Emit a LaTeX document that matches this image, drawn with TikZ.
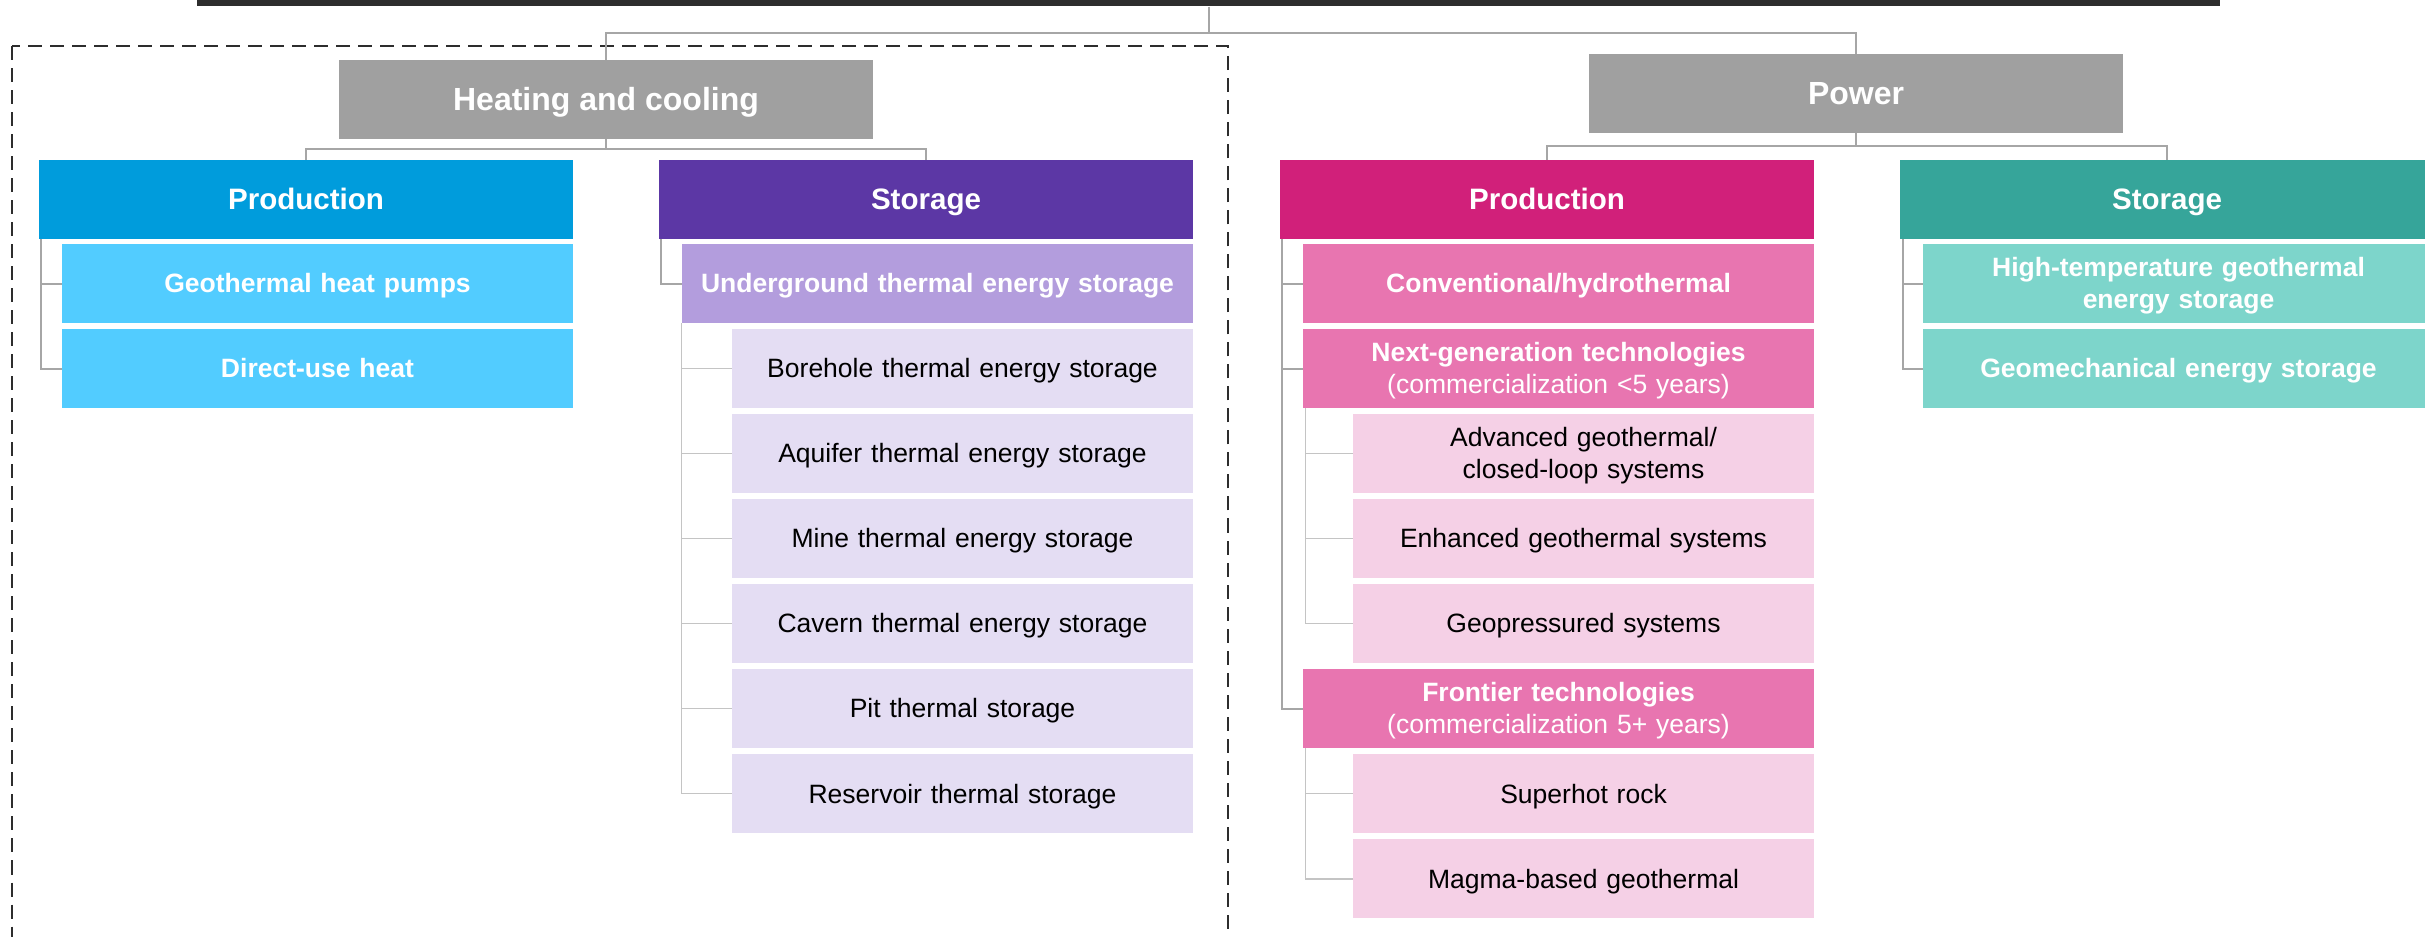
\documentclass[tikz,border=0pt]{standalone}
\usepackage{fontspec}
\setmainfont{Liberation Sans}
\usetikzlibrary{positioning}
\definecolor{barblack}{HTML}{2D2D2D}
\definecolor{headgrey}{HTML}{A0A0A0}
\definecolor{linegrey}{HTML}{A6A6A6}
\definecolor{leafline}{HTML}{C4C4C4}
\definecolor{heatblue}{HTML}{009CDC}
\definecolor{heatlight}{HTML}{52CCFF}
\definecolor{storpurple}{HTML}{5C37A5}
\definecolor{storlilac}{HTML}{B39DDD}
\definecolor{storpale}{HTML}{E4DDF3}
\definecolor{powmagenta}{HTML}{D1207A}
\definecolor{powpink}{HTML}{E875B0}
\definecolor{powpale}{HTML}{F5D0E6}
\definecolor{powteal}{HTML}{36A59A}
\definecolor{powmint}{HTML}{7DD5CB}
\newcommand{\lineup}{\rule{0pt}{0.905em}}
\newcommand{\linedown}{\rule[-0.212em]{0pt}{0pt}}
\tikzstyle{boxbase} = [rectangle, inner sep=0pt, outer sep=0pt,
minimum height=0.79cm,
execute at begin node=\lineup, execute at end node=\linedown]
\tikzstyle{topbox} = [boxbase, fill=headgrey, text=white,
font=\bfseries\fontsize{9.1pt}{11pt}\selectfont,
minimum width=5.34cm]
\tikzstyle{catbox} = [boxbase, text=white,
font=\bfseries\fontsize{8.4pt}{10pt}\selectfont,
minimum width=5.34cm]
\tikzstyle{subbox} = [boxbase, text=white,
font=\bfseries\fontsize{7.54pt}{9.1pt}\selectfont,
text width=5.11cm, align=center]
\tikzstyle{leafbox} = [boxbase, text=black,
font=\fontsize{7.54pt}{9.1pt}\selectfont,
text width=4.61cm, align=center]
\tikzstyle{link} = [draw=linegrey, line width=0.02cm]
\tikzstyle{leaflink} = [draw=leafline, line width=0.012cm]

\begin{document}
\begin{tikzpicture}[x=0.01cm, y=-0.01cm]
	\useasboundingbox (0,0) rectangle (2425,936);
	% frame round heating and cooling
	\draw [barblack, line width=0.02cm, dash pattern=on 0.14cm off 0.08cm] (12,46) rectangle (1228,980);

	\node (root) [fill=barblack, minimum width=20.21cm, minimum height=0.06cm, inner sep=0pt] at (1208.5,3) {};
	\node (heat) [topbox] at (606,99.5) {Heating and cooling};
	\node (power) [topbox] at (1856,93.5) {Power};

	\node (hcprod) [catbox, fill=heatblue] at (306,199.5) {Production};
	\node (hcstor) [catbox, fill=storpurple] at (926,199.5) {Storage};
	\node (pprod) [catbox, fill=powmagenta] at (1547,199.5) {Production};
	\node (pstor) [catbox, fill=powteal] at (2167,199.5) {Storage};

	% heating and cooling
	\node (ghp) [subbox, fill=heatlight, below left=0.05cm and 0cm of hcprod.south east] {Geothermal heat pumps};
	\node (duh) [subbox, fill=heatlight, below=0.06cm of ghp] {Direct-use heat};
	\node (utes) [subbox, fill=storlilac, below left=0.05cm and 0cm of hcstor.south east] {Underground thermal energy storage};
	\node (btes) [leafbox, fill=storpale, below left=0.06cm and 0cm of utes.south east] {Borehole thermal energy storage};
	\node (ates) [leafbox, fill=storpale, below=0.06cm of btes] {Aquifer thermal energy storage};
	\node (mtes) [leafbox, fill=storpale, below=0.06cm of ates] {Mine thermal energy storage};
	\node (ctes) [leafbox, fill=storpale, below=0.06cm of mtes] {Cavern thermal energy storage};
	\node (ptes) [leafbox, fill=storpale, below=0.06cm of ctes] {Pit thermal storage};
	\node (rtes) [leafbox, fill=storpale, below=0.06cm of ptes] {Reservoir thermal storage};

	% power
	\node (conv) [subbox, fill=powpink, below left=0.05cm and 0cm of pprod.south east] {Conventional/hydrothermal};
	\node (nextgen) [subbox, fill=powpink, below=0.06cm of conv] {Next-generation technologies\\{\mdseries (commercialization <5 years)}};
	\node (agcl) [leafbox, fill=powpale, below left=0.06cm and 0cm of nextgen.south east] {Advanced geothermal/\\closed-loop systems};
	\node (egs) [leafbox, fill=powpale, below=0.06cm of agcl] {Enhanced geothermal systems};
	\node (geop) [leafbox, fill=powpale, below=0.06cm of egs] {Geopressured systems};
	\node (frontier) [subbox, fill=powpink, below left=0.06cm and 0cm of geop.south east] {Frontier technologies\\{\mdseries (commercialization 5+ years)}};
	\node (shr) [leafbox, fill=powpale, below left=0.06cm and 0cm of frontier.south east] {Superhot rock};
	\node (magma) [leafbox, fill=powpale, below=0.06cm of shr] {Magma-based geothermal};
	\node (htges) [subbox, fill=powmint, below left=0.05cm and 0cm of pstor.south east] {High-temperature geothermal\\energy storage};
	\node (gmes) [subbox, fill=powmint, below=0.06cm of htges] {Geomechanical energy storage};

	\coordinate (hub) at ([yshift=-0.26cm]root.south);
	\draw [link] (root.south) -- (hub) -| (heat.north);
	\draw [link] (hub) -| (power.north);
	\draw [link] (heat.south) -- ++(0,10) -| (hcprod.north);
	\draw [link] (heat.south) -- ++(0,10) -| (hcstor.north);
	\draw [link] (power.south) -- ++(0,12.5) -| (pprod.north);
	\draw [link] (power.south) -- ++(0,12.5) -| (pstor.north);

	\draw [link] ([xshift=0.02cm]hcprod.south west) |- (ghp.west);
	\draw [link] ([xshift=0.02cm]hcprod.south west) |- (duh.west);
	\draw [link] ([xshift=0.02cm]hcstor.south west) |- (utes.west);
	\draw [leaflink] (utes.south west) |- (btes.west);
	\draw [leaflink] (utes.south west) |- (ates.west);
	\draw [leaflink] (utes.south west) |- (mtes.west);
	\draw [leaflink] (utes.south west) |- (ctes.west);
	\draw [leaflink] (utes.south west) |- (ptes.west);
	\draw [leaflink] (utes.south west) |- (rtes.west);

	\draw [link] ([xshift=0.02cm]pprod.south west) |- (conv.west);
	\draw [link] ([xshift=0.02cm]pprod.south west) |- (nextgen.west);
	\draw [link] ([xshift=0.02cm]pprod.south west) |- (frontier.west);
	\draw [leaflink] ([xshift=0.03cm]nextgen.south west) |- (agcl.west);
	\draw [leaflink] ([xshift=0.03cm]nextgen.south west) |- (egs.west);
	\draw [leaflink] ([xshift=0.03cm]nextgen.south west) |- (geop.west);
	\draw [leaflink] ([xshift=0.03cm]frontier.south west) |- (shr.west);
	\draw [leaflink] ([xshift=0.03cm]frontier.south west) |- (magma.west);
	\draw [link] ([xshift=0.03cm]pstor.south west) |- (htges.west);
	\draw [link] ([xshift=0.03cm]pstor.south west) |- (gmes.west);
\end{tikzpicture}
\end{document}
